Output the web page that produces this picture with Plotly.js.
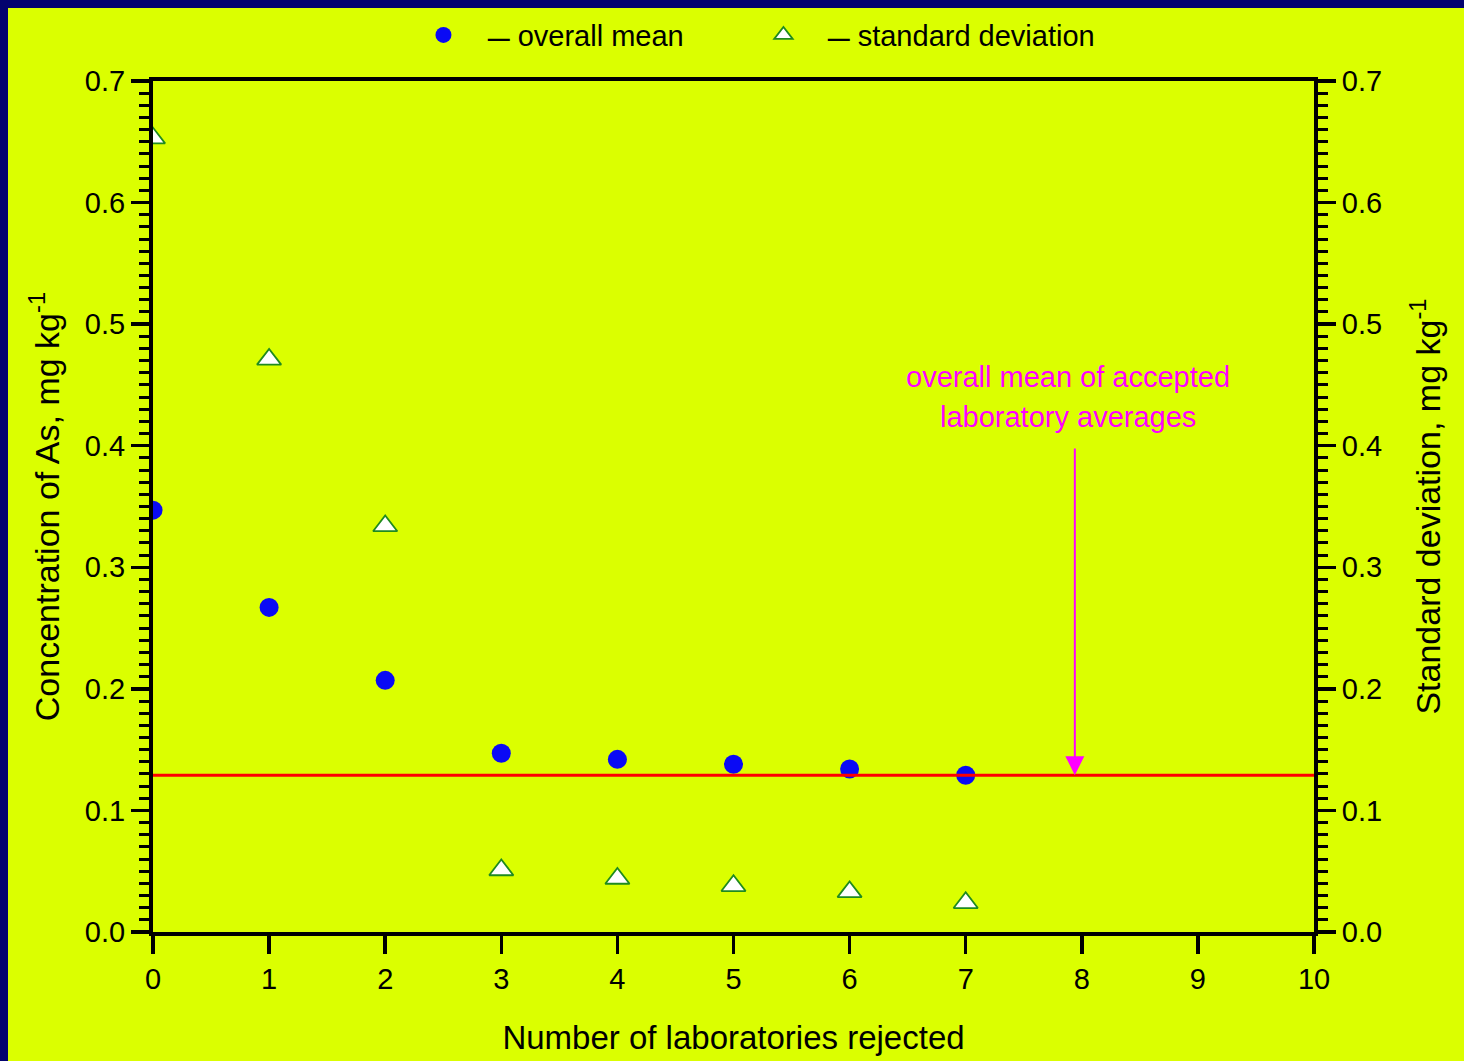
<!DOCTYPE html>
<html>
<head>
<meta charset="utf-8">
<script src="https://cdn.plot.ly/plotly-3.0.1.min.js"></script>
<style>
  html, body { margin: 0; padding: 0; background: #03036e; width: 1464px; height: 1061px; overflow: hidden; }
  #chart { position: absolute; left: 8px; top: 8px; width: 1456px; height: 1053px; }
</style>
</head>
<body>
<div id="chart"></div>
<script>
// ---- data ----
const labsRejected = [0, 1, 2, 3, 4, 5, 6, 7];
const overallMean = [0.347, 0.267, 0.207, 0.147, 0.142, 0.138, 0.134, 0.129];
const standardDeviation = [0.653, 0.471, 0.334, 0.051, 0.044, 0.038, 0.033, 0.024];
const acceptedMean = 0.129;
const xRange = [0, 10];
const yRange = [0, 0.7];
const arrowX = 7.94;
const arrowTopY = 0.399;
const noteX = 7.88;
const noteLines = ["overall mean of accepted", "laboratory averages"];
const noteY = [0.4565, 0.4236];
const seriesNames = ["overall mean", "standard deviation"];

const FONT = "Liberation Sans, Arial, sans-serif";
const BG = "#dbff00";
const DASH = "\u00a0\u00a0\u00a0<b><span style='font-size:22px'>\u2014</span></b> ";
const TRAIL = "\u00a0\u00a0\u00a0\u00a0\u00a0\u00a0";

const traces = [
  {
    x: labsRejected, y: overallMean, type: "scatter", mode: "markers",
    name: DASH + seriesNames[0],
    marker: { symbol: "circle", size: 19, color: "#0a0af5", line: { width: 0 } },
    xaxis: "x", yaxis: "y"
  },
  {
    x: labsRejected, y: standardDeviation, type: "scatter", mode: "markers",
    name: DASH + seriesNames[1],
    marker: { symbol: "triangle-up", size: 21, color: "#ffffff", line: { width: 1.8, color: "#1f8a1f" } },
    xaxis: "x", yaxis: "y2"
  },
  {
    x: xRange, y: [acceptedMean, acceptedMean], type: "scatter", mode: "lines",
    line: { color: "#ff0000", width: 3 }, showlegend: false, hoverinfo: "skip",
    xaxis: "x", yaxis: "y"
  }
];

const yCommon = {
  range: yRange, dtick: 0.1, tick0: 0, tickformat: ".1f",
  ticks: "outside", ticklen: 18, tickwidth: 3.5, tickcolor: "#000",
  showline: true, linewidth: 4, linecolor: "#000",
  showgrid: false, zeroline: false,
  tickfont: { family: FONT, size: 29, color: "#000" },
  minor: { dtick: 0.01, ticks: "outside", ticklen: 10, tickwidth: 3, tickcolor: "#000", showgrid: false },
  fixedrange: true
};

const layout = {
  width: 1456, height: 1053,
  paper_bgcolor: BG, plot_bgcolor: BG,
  margin: { l: 145, r: 150, t: 73, b: 129, autoexpand: false },
  font: { family: FONT, color: "#000" },
  showlegend: true,
  legend: {
    orientation: "h", x: 0.5258, xanchor: "center", y: 1.054, yanchor: "middle",
    bgcolor: "rgba(0,0,0,0)", font: { family: FONT, size: 29, color: "#000" },
    itemsizing: "trace", entrywidth: 295
  },
  xaxis: {
    range: xRange, dtick: 1, tick0: 0,
    ticks: "outside", ticklen: 18, tickwidth: 3.5, tickcolor: "#000",
    showline: true, linewidth: 4, linecolor: "#000", mirror: true,
    showgrid: false, zeroline: false,
    tickfont: { family: FONT, size: 29, color: "#000" },
    title: { text: "Number of laboratories rejected", font: { family: FONT, size: 33, color: "#000" }, standoff: 33 },
    fixedrange: true
  },
  yaxis: Object.assign({}, yCommon, {
    side: "left",
    title: { text: "Concentration of As, mg kg<sup>-1</sup>" + TRAIL, font: { family: FONT, size: 34, color: "#000" }, standoff: 16 }
  }),
  yaxis2: Object.assign({}, yCommon, {
    side: "right", overlaying: "y",
    title: { text: "Standard deviation, mg kg<sup>-1</sup>" + TRAIL, font: { family: FONT, size: 34, color: "#000" }, standoff: 36 }
  }),
  annotations: [
    {
      x: arrowX, y: acceptedMean, xref: "x", yref: "y",
      ax: arrowX, ay: arrowTopY, axref: "x", ayref: "y",
      text: "", showarrow: true, arrowhead: 2, arrowsize: 1.9, arrowwidth: 2, arrowcolor: "#ff00ff", standoff: 0
    },
    {
      x: noteX, y: noteY[0], xref: "x", yref: "y", text: noteLines[0], showarrow: false,
      xanchor: "center", yanchor: "middle", font: { family: FONT, size: 29, color: "#ff00ff" }
    },
    {
      x: noteX, y: noteY[1], xref: "x", yref: "y", text: noteLines[1], showarrow: false,
      xanchor: "center", yanchor: "middle", font: { family: FONT, size: 29, color: "#ff00ff" }
    }
  ]
};

Plotly.newPlot("chart", traces, layout, { displayModeBar: false, staticPlot: true });
</script>
</body>
</html>
